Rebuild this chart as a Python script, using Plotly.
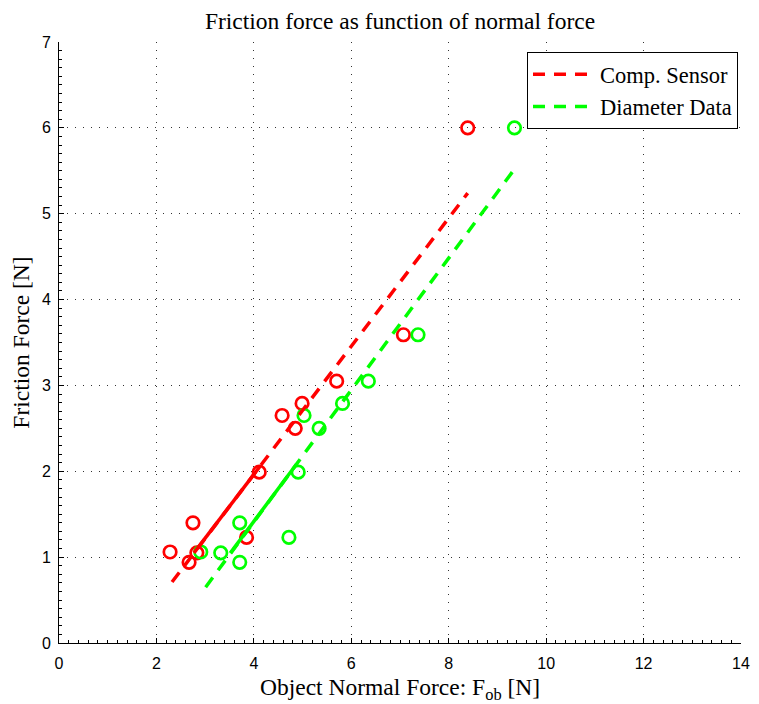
import plotly.graph_objects as go

# Measured data points
comp_x = [2.28, 2.67, 2.75, 2.83, 3.85, 4.11, 4.58, 4.85, 4.99, 5.70, 7.07, 8.39]
comp_y = [1.06, 0.94, 1.40, 1.05, 1.23, 1.99, 2.65, 2.50, 2.79, 3.05, 3.59, 6.00]
diam_x = [2.91, 3.32, 3.71, 3.71, 4.72, 4.91, 5.03, 5.34, 5.82, 6.35, 7.37, 9.35]
diam_y = [1.06, 1.05, 1.40, 0.94, 1.23, 1.99, 2.65, 2.50, 2.79, 3.05, 3.59, 6.00]

# Fit lines (end points)
comp_fit_x = [2.32, 8.39]
comp_fit_y = [0.71, 5.24]
comp_solid_x = [2.77, 4.13]
comp_solid_y = [1.05, 2.06]
diam_fit_x = [3.01, 9.35]
diam_fit_y = [0.65, 5.52]
diam_solid_x = [3.52, 4.87]
diam_solid_y = [1.05, 2.08]

series_names = ["Comp. Sensor", "Diameter Data"]
x_ticks = [0, 2, 4, 6, 8, 10, 12, 14]
y_ticks = [0, 1, 2, 3, 4, 5, 6, 7]

RED = "#ff0000"
GREEN = "#00ff00"
SERIF = "Liberation Serif, Times New Roman, serif"
SANS = "Liberation Sans, Arial, sans-serif"
SERIF_SIZE = 23.5

fig = go.Figure()

for xs, ys, col in [(comp_x, comp_y, RED), (diam_x, diam_y, GREEN)]:
    fig.add_trace(go.Scatter(x=xs, y=ys, mode="markers", showlegend=False,
                             marker=dict(symbol="circle-open", size=12.5, color=col,
                                         line=dict(width=2.7, color=col))))

for xs, ys, col in [(comp_solid_x, comp_solid_y, RED), (diam_solid_x, diam_solid_y, GREEN)]:
    fig.add_trace(go.Scatter(x=xs, y=ys, mode="lines", showlegend=False,
                             line=dict(color=col, width=3.5)))

for xs, ys, col, name in [(comp_fit_x, comp_fit_y, RED, series_names[0]),
                          (diam_fit_x, diam_fit_y, GREEN, series_names[1])]:
    fig.add_trace(go.Scatter(x=xs, y=ys, mode="lines", name=name,
                             line=dict(color=col, width=3.5, dash="12px,9px")))

axis_common = dict(
    showline=True, linecolor="black", linewidth=1,
    ticks="inside", ticklen=5, tickcolor="black",
    showgrid=True, gridcolor="#333333", gridwidth=1, griddash="1px,7px",
    zeroline=False, mirror=False, automargin=False,
    tickfont=dict(family=SANS, size=16, color="black"),
)

fig.update_xaxes(range=[0, 14], tickvals=x_ticks, ticktext=[str(v) for v in x_ticks],
                 ticklabelstandoff=6,
                 minor=dict(ticks="inside", ticklen=3, dtick=0.2, tickcolor="black", showgrid=False),
                 **axis_common)
fig.update_yaxes(range=[0, 7], tickvals=y_ticks, ticktext=[str(v) for v in y_ticks],
                 ticklabelstandoff=4,
                 minor=dict(ticks="inside", ticklen=3, dtick=0.1, tickcolor="black", showgrid=False),
                 **axis_common)

fig.add_annotation(text="Object Normal Force: F<sub>ob</sub> [N]", xref="paper", yref="paper",
                   x=0.5, y=-0.049, xanchor="center", yanchor="top", showarrow=False,
                   font=dict(family=SERIF, size=SERIF_SIZE, color="black"))
fig.add_annotation(text="Friction Force [N]", xref="paper", yref="paper",
                   x=-0.057, y=0.5, xanchor="center", yanchor="middle", textangle=-90,
                   showarrow=False, font=dict(family=SERIF, size=SERIF_SIZE, color="black"))

fig.update_layout(
    width=751, height=696,
    margin=dict(l=51, r=18, t=34, b=61),
    paper_bgcolor="white", plot_bgcolor="white",
    title=dict(text="Friction force as function of normal force",
               font=dict(family=SERIF, size=SERIF_SIZE, color="black"),
               x=0.5, xref="paper", xanchor="center", y=0.981, yanchor="middle"),
    legend=dict(x=0.9956, y=0.983, xanchor="right", yanchor="top",
                bgcolor="white", bordercolor="black", borderwidth=1,
                font=dict(family=SERIF, size=22.5, color="black"),
                itemwidth=62, tracegroupgap=0),
    showlegend=True,
)

fig.write_html("out.html")
